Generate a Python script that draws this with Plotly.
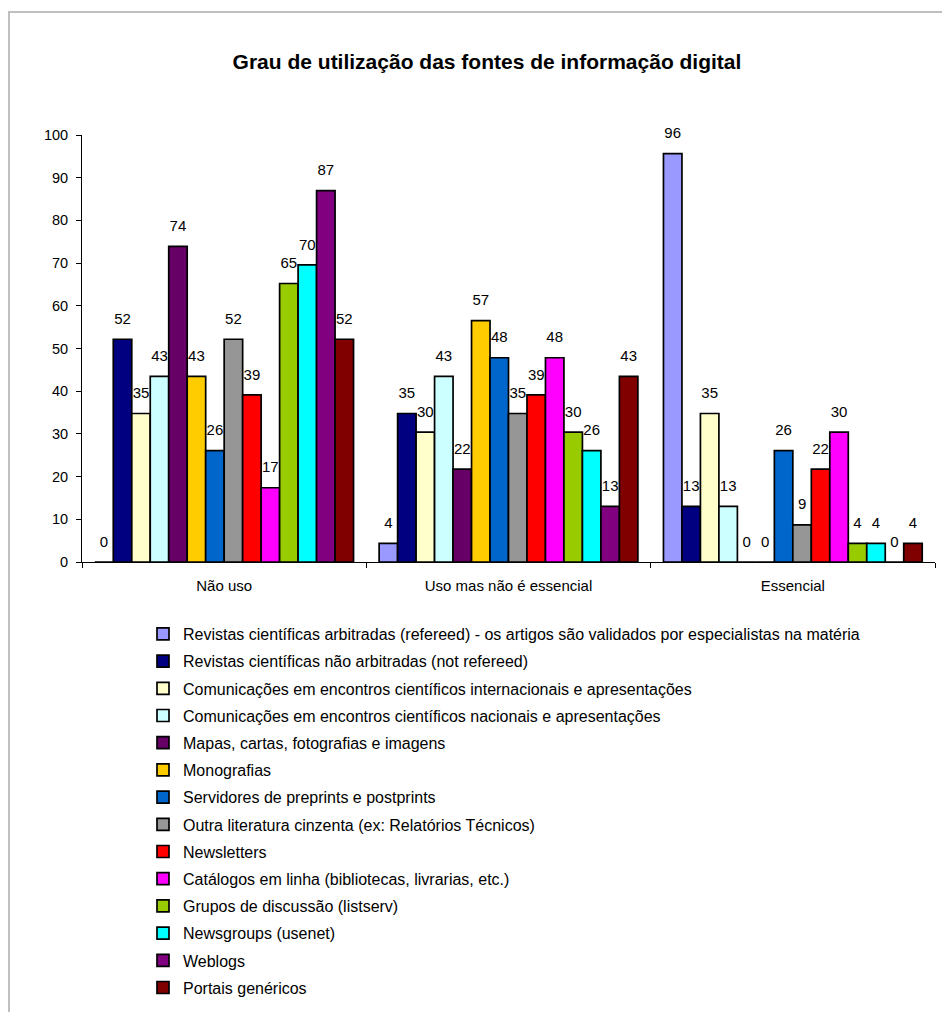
import plotly.graph_objects as go

categories = ["Não uso", "Uso mas não é essencial", "Essencial"]

series_names = [
    "Revistas científicas arbitradas (refereed) - os artigos são validados por especialistas na matéria",
    "Revistas científicas não arbitradas (not refereed)",
    "Comunicações em encontros científicos internacionais e apresentações",
    "Comunicações em encontros científicos nacionais e apresentações",
    "Mapas, cartas, fotografias e imagens",
    "Monografias",
    "Servidores de preprints e postprints",
    "Outra literatura cinzenta (ex: Relatórios Técnicos)",
    "Newsletters",
    "Catálogos em linha (bibliotecas, livrarias, etc.)",
    "Grupos de discussão (listserv)",
    "Newsgroups (usenet)",
    "Weblogs",
    "Portais genéricos",
]

# values per series: [Não uso, Uso mas não é essencial, Essencial]
revistas_arbitradas = [0, 4.35, 95.65]
revistas_nao_arbitradas = [52.17, 34.78, 13.04]
com_internacionais = [34.78, 30.43, 34.78]
com_nacionais = [43.48, 43.48, 13.04]
mapas = [73.91, 21.74, 0]
monografias = [43.48, 56.52, 0]
servidores = [26.09, 47.83, 26.09]
literatura_cinzenta = [52.17, 34.78, 8.70]
newsletters = [39.13, 39.13, 21.74]
catalogos = [17.39, 47.83, 30.43]
grupos = [65.22, 30.43, 4.35]
newsgroups = [69.57, 26.09, 4.35]
weblogs = [86.96, 13.04, 0]
portais = [52.17, 43.48, 4.35]

series_values = [
    revistas_arbitradas, revistas_nao_arbitradas, com_internacionais, com_nacionais,
    mapas, monografias, servidores, literatura_cinzenta, newsletters, catalogos,
    grupos, newsgroups, weblogs, portais,
]

colors = [
    "#9999FF", "#000080", "#FFFFCC", "#CCFFFF", "#660066", "#FFCC00", "#0066CC",
    "#969696", "#FF0000", "#FF00FF", "#99CC00", "#00FFFF", "#800080", "#800000",
]

FONT = "Liberation Sans, Arial, sans-serif"

fig = go.Figure()
for i, (name, vals, col) in enumerate(zip(series_names, series_values, colors)):
    fig.add_trace(go.Bar(
        name=name,
        x=categories,
        y=vals,
        marker=dict(color=col, line=dict(color="black", width=1.7)),
        # value label, with a small empty second line to lift it off the bar top
        texttemplate="<span style='font-size:15px'>%{y:.0f}</span><br> ",
        textposition="outside",
        textfont=dict(family=FONT, size=8, color="black"),
        constraintext="none",
        cliponaxis=False,
        legendgroup=f"g{i}",
        hoverinfo="skip",
    ))

# page body has an 8px margin; figure coordinates below are page px - 8
W, H = 942, 1004
ml, mr, mt, mb = 74, 15, 127, 450
pw = W - ml - mr
ph = H - mt - mb


def px_x(px):
    return (px - ml) / pw


def px_y(py):
    return (H - mb - py) / ph


fig.update_layout(
    width=W,
    height=H,
    margin=dict(l=ml, r=mr, t=mt, b=mb, autoexpand=False),
    paper_bgcolor="white",
    plot_bgcolor="white",
    font=dict(family=FONT, size=15, color="black"),
    barmode="group",
    bargap=0.09,
    bargroupgap=0,
    showlegend=True,
    title=dict(
        text="<b>Grau de utilização das fontes de informação digital</b>",
        font=dict(family=FONT, size=21, color="black"),
        x=479 / W, xref="container", xanchor="center",
        y=1 - 54 / H, yref="container", yanchor="middle",
    ),
    legend=dict(
        x=px_x(135), xanchor="left",
        y=px_y(609), yanchor="top",
        orientation="v",
        tracegroupgap=3.4,
        font=dict(family=FONT, size=16, color="black"),
        bgcolor="rgba(0,0,0,0)",
    ),
    xaxis=dict(
        type="category",
        showline=True, linecolor="black", linewidth=1,
        ticks="outside", tickson="boundaries", ticklen=5, tickcolor="black",
        showgrid=False, zeroline=False,
        ticklabelstandoff=10,
        tickfont=dict(family=FONT, size=15, color="black"),
    ),
    yaxis=dict(
        range=[0, 100], dtick=10,
        showline=True, linecolor="black", linewidth=1,
        ticks="outside", ticklen=5, tickcolor="black",
        showgrid=False, zeroline=False,
        ticklabelstandoff=5,
        tickfont=dict(family=FONT, size=14.5, color="black"),
    ),
    shapes=[dict(
        type="rect", xref="paper", yref="paper",
        x0=px_x(1), x1=px_x(1000), y0=px_y(1060), y1=px_y(4),
        line=dict(color="#C0C0C0", width=2),
        fillcolor="rgba(0,0,0,0)", layer="below",
    )],
)

fig.write_html("out.html")
